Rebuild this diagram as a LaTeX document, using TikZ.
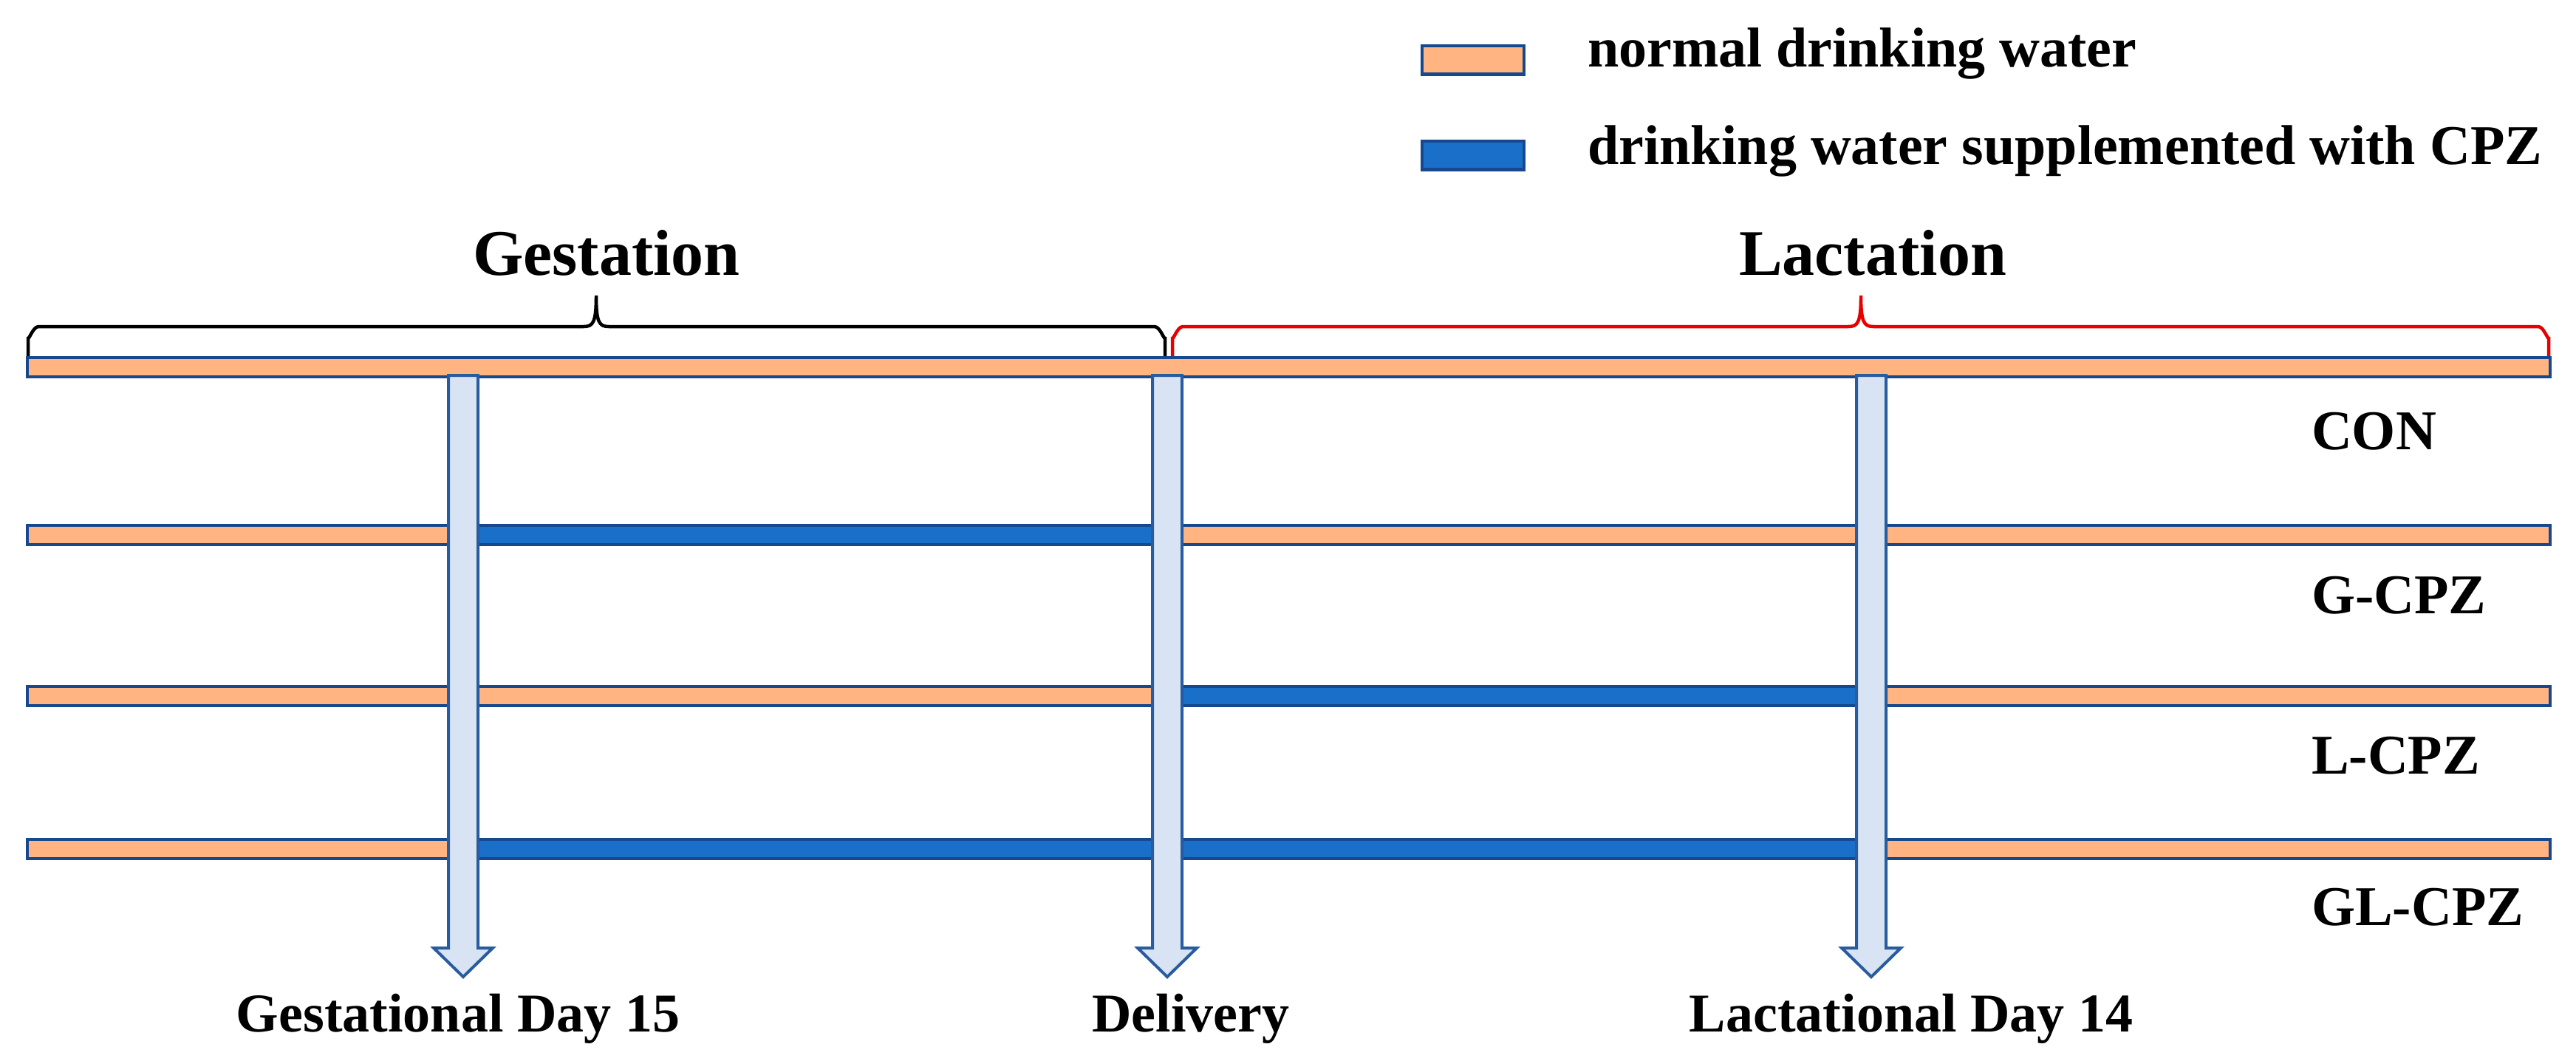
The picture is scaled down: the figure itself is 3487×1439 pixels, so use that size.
\documentclass[tikz,border=0pt]{standalone}
\usepackage{fontspec}
\setmainfont{Liberation Serif}
\definecolor{orangefill}{RGB}{255,180,130}
\definecolor{bluefill}{RGB}{26,112,200}
\definecolor{borderblue}{RGB}{22,72,142}
\definecolor{arrowfill}{RGB}{216,228,244}
\definecolor{arrowborder}{RGB}{40,92,158}
\definecolor{bracered}{RGB}{232,0,0}
\tikzset{
  normalbar/.style={fill=orangefill,draw=borderblue,line width=0.9pt},
  cpzbar/.style={fill=bluefill,draw=borderblue,line width=0.9pt},
  legbox/.style={inner sep=0pt,minimum width=27.6pt,minimum height=7.7pt},
  fatarrowstyle/.style={fill=arrowfill,draw=arrowborder,line width=0.8pt,line join=miter},
  bracestyle/.style={line width=0.9pt,line cap=round},
  lbl/.style={inner sep=0pt,font=\bfseries\fontsize{15.2}{18}\selectfont},
  bottomlbl/.style={inner sep=0pt,font=\bfseries\fontsize{14.8}{18}\selectfont,anchor=base},
  phaselbl/.style={inner sep=0pt,font=\bfseries\fontsize{17.6}{21}\selectfont,anchor=base},
  fatarrow/.pic={
    \draw[fatarrowstyle] (-20,0) -- (-20,775) -- (-40,775) -- (0,814) -- (40,775) -- (20,775) -- (20,0) -- cycle;
  }
}
\begin{document}
\begin{tikzpicture}[x=0.2pt,y=-0.2pt]
\useasboundingbox (0,0) rectangle (3487,1439);

% legend
\node[normalbar,legbox] (legA) at (1994,81) {};
\node[cpzbar,legbox] (legB) at (1994,210) {};
\node[lbl,anchor=base west] (legAt) at (2148,90) {normal drinking water};
\node[lbl,anchor=base west] (legBt) at (2148,222) {drinking water supplemented with CPZ};

% phase titles
\node[phaselbl] (gest) at (821,372) {Gestation};
\node[phaselbl] (lact) at (2535,372) {Lactation};

% braces
\coordinate (gtip) at (807,400);
\coordinate (ltip) at (2519,400);
\draw[bracestyle,black] (38,485) -- (38,456) to[out=-90,in=180] (52,442) -- (790,442)
  .. controls (803,442) and (807,436) .. (gtip)
  .. controls (807,436) and (811,442) .. (824,442) -- (1563,442)
  to[out=0,in=-90] (1577,456) -- (1577,484);
\draw[bracestyle,bracered] (1587,484) -- (1587,456) to[out=-90,in=180] (1601,442) -- (2502,442)
  .. controls (2515,442) and (2519,436) .. (ltip)
  .. controls (2519,436) and (2523,442) .. (2536,442) -- (3436,442)
  to[out=0,in=-90] (3450,456) -- (3450,482);

% group bars
\draw[normalbar] (37,484) rectangle (3452,510);
\draw[normalbar] (37,711) rectangle (3452,737);
\draw[normalbar] (37,929) rectangle (3452,955);
\draw[normalbar] (37,1136) rectangle (3452,1162);
\draw[cpzbar] (627,711) rectangle (1580,737);
\draw[cpzbar] (1580,929) rectangle (2533,955);
\draw[cpzbar] (627,1136) rectangle (2533,1162);

% arrows
\coordinate (a1) at (627,508);
\coordinate (a2) at (1580,508);
\coordinate (a3) at (2533,508);
\pic at (a1) {fatarrow};
\pic at (a2) {fatarrow};
\pic at (a3) {fatarrow};

% group labels
\node[lbl,anchor=base west] (con) at (3128,608) {CON};
\node[lbl,anchor=base west] (gcpz) at (3128,830) {G-CPZ};
\node[lbl,anchor=base west] (lcpz) at (3128,1047) {L-CPZ};
\node[lbl,anchor=base west] (glcpz) at (3128,1252) {GL-CPZ};

% time point labels
\node[bottomlbl] (gd15) at (620,1396) {Gestational Day 15};
\node[bottomlbl] (deliv) at (1612,1396) {Delivery};
\node[bottomlbl] (ld14) at (2587,1396) {Lactational Day 14};
\end{tikzpicture}
\end{document}
